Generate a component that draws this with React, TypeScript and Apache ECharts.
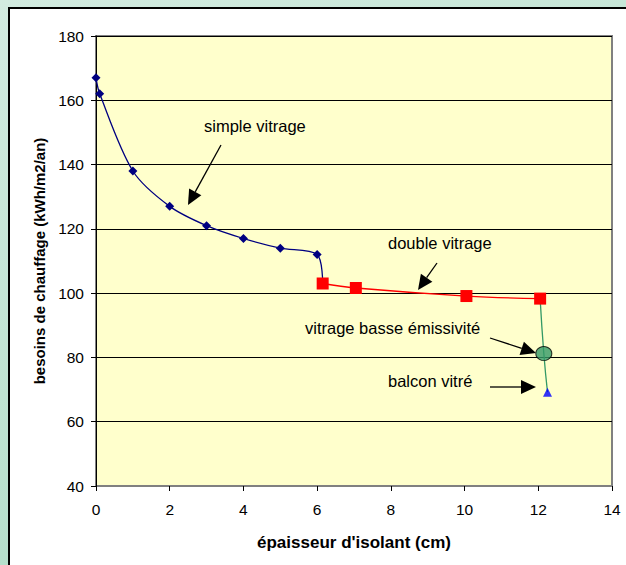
import React, { useEffect, useRef } from "react";
import * as echarts from "echarts";

const xSimple = [0, 0.1, 1, 2, 3, 4, 5, 6];
const ySimple = [167, 162, 138, 127, 121, 117, 114, 112];
const xDouble = [6.15, 7.05, 10.05, 12.05];
const yDouble = [103, 101.6, 99.1, 98.3];
const xBasse = [12.15];
const yBasse = [81.2];
const xBalcon = [12.25];
const yBalcon = [69.2];
const xTicks = [0, 2, 4, 6, 8, 10, 12, 14];

const FONT = "'Liberation Sans', Arial, sans-serif";

function arrow(x1: number, y1: number, x2: number, y2: number) {
  const dx = x2 - x1, dy = y2 - y1;
  const len = Math.sqrt(dx * dx + dy * dy);
  const ux = dx / len, uy = dy / len;
  const hl = 15, hw = 7;
  const bx = x2 - ux * hl, by = y2 - uy * hl;
  return [
    { type: "line", shape: { x1, y1, x2: bx, y2: by }, style: { stroke: "#000", lineWidth: 1.3 }, z: 100 },
    {
      type: "polygon",
      shape: { points: [[x2, y2], [bx - uy * hw, by + ux * hw], [bx + uy * hw, by - ux * hw]] },
      style: { fill: "#000" },
      z: 100,
    },
  ];
}

function label(text: string, x: number, y: number) {
  return {
    type: "text",
    x,
    y,
    style: { text, fill: "#000", font: `16.5px ${FONT}`, textAlign: "left", textVerticalAlign: "middle" },
    z: 100,
  };
}

export default function App() {
  const ref = useRef<HTMLDivElement>(null);
  useEffect(() => {
    if (!ref.current) return;
    const chart = echarts.init(ref.current, null, { renderer: "svg" });
    const simple = xSimple.map((x, i) => [x, ySimple[i]]);
    const blueData: any[] = simple.map((p) => ({ value: p }));
    blueData.push({ value: [xDouble[0], yDouble[0]], symbol: "none" });
    const dbl = xDouble.map((x, i) => [x, yDouble[i]]);
    const green = [
      [xDouble[xDouble.length - 1], yDouble[yDouble.length - 1]],
      [xBasse[0], yBasse[0]],
      [xBalcon[0], yBalcon[0]],
    ];
    chart.setOption({
      animation: false,
      textStyle: { fontFamily: FONT },
      grid: {
        left: 96,
        top: 36,
        right: 14,
        bottom: 79,
        show: true,
        backgroundColor: "#ffffcc",
        borderColor: "#808080",
        borderWidth: 2,
      },
      xAxis: {
        type: "value",
        min: 0,
        max: 14,
        interval: 2,
        name: "épaisseur d'isolant (cm)",
        nameLocation: "middle",
        nameGap: 48,
        nameTextStyle: { fontSize: 17, fontWeight: "bold", color: "#000", fontFamily: FONT },
        axisLine: { show: true, onZero: false, lineStyle: { color: "#808080", width: 1 } },
        axisTick: { show: true, inside: false, length: 5, lineStyle: { color: "#000" } },
        axisLabel: { fontSize: 15.5, color: "#000", margin: 15, fontFamily: FONT,
          formatter: (v: number) => (xTicks.includes(v) ? String(v) : "") },
        splitLine: { show: false },
      },
      yAxis: {
        type: "value",
        min: 40,
        max: 180,
        interval: 20,
        name: "besoins de chauffage (kWh/m2/an)",
        nameLocation: "middle",
        nameGap: 47,
        nameTextStyle: { fontSize: 15, fontWeight: "bold", color: "#000", fontFamily: FONT },
        axisLine: { show: true, lineStyle: { color: "#000", width: 1 } },
        axisTick: { show: true, inside: false, length: 5, lineStyle: { color: "#000" } },
        axisLabel: { fontSize: 15.5, color: "#000", margin: 12, fontFamily: FONT },
        splitLine: { show: true, lineStyle: { color: "#000", width: 1 } },
      },
      series: [
        {
          type: "line",
          data: blueData,
          smooth: 0.3,
          symbol: "diamond",
          symbolSize: 9,
          lineStyle: { color: "#000080", width: 1.3 },
          itemStyle: { color: "#000080" },
          z: 3,
        },
        {
          type: "line",
          data: dbl,
          smooth: 0.4,
          symbol: "rect",
          symbolSize: 12,
          lineStyle: { color: "#ff0000", width: 1.3 },
          itemStyle: { color: "#ff0000" },
          z: 4,
        },
        {
          type: "line",
          data: green,
          smooth: 0.5,
          symbol: "none",
          lineStyle: { color: "#339966", width: 1.3 },
          z: 2,
        },
        {
          type: "scatter",
          data: xBasse.map((x, i) => [x, yBasse[i]]),
          symbol: "circle",
          symbolSize: [16, 14],
          itemStyle: { color: "#339966", borderColor: "#000", borderWidth: 1 },
          z: 5,
        },
        {
          type: "scatter",
          data: xBalcon.map((x, i) => [x, yBalcon[i]]),
          symbol: "triangle",
          symbolSize: 9,
          itemStyle: { color: "#0000ff" },
          z: 5,
        },
      ],
      graphic: [
        label("simple vitrage", 204, 126),
        ...arrow(221, 145, 188, 205),
        label("double vitrage", 388, 243),
        ...arrow(437, 263, 418, 290),
        label("vitrage basse émissivité", 305, 328),
        ...arrow(490, 338, 536, 353),
        label("balcon vitré", 388, 381),
        ...arrow(490, 387, 536, 387),
      ],
    });
    return () => chart.dispose();
  }, []);
  return (
    <div style={{ position: "absolute", left: 0, top: 0, width: 626, height: 565, overflow: "hidden",
      background: "linear-gradient(160deg, #d2ebe0 0%, #bfe3d2 50%, #a9d9c3 100%)" }}>
      <div style={{ position: "absolute", left: 8, top: 7, width: 640, height: 580, background: "#fff",
        border: "2px solid #000", boxSizing: "border-box" }} />
      <div ref={ref} style={{ position: "absolute", left: 0, top: 0, width: 626, height: 565 }} />
    </div>
  );
}
